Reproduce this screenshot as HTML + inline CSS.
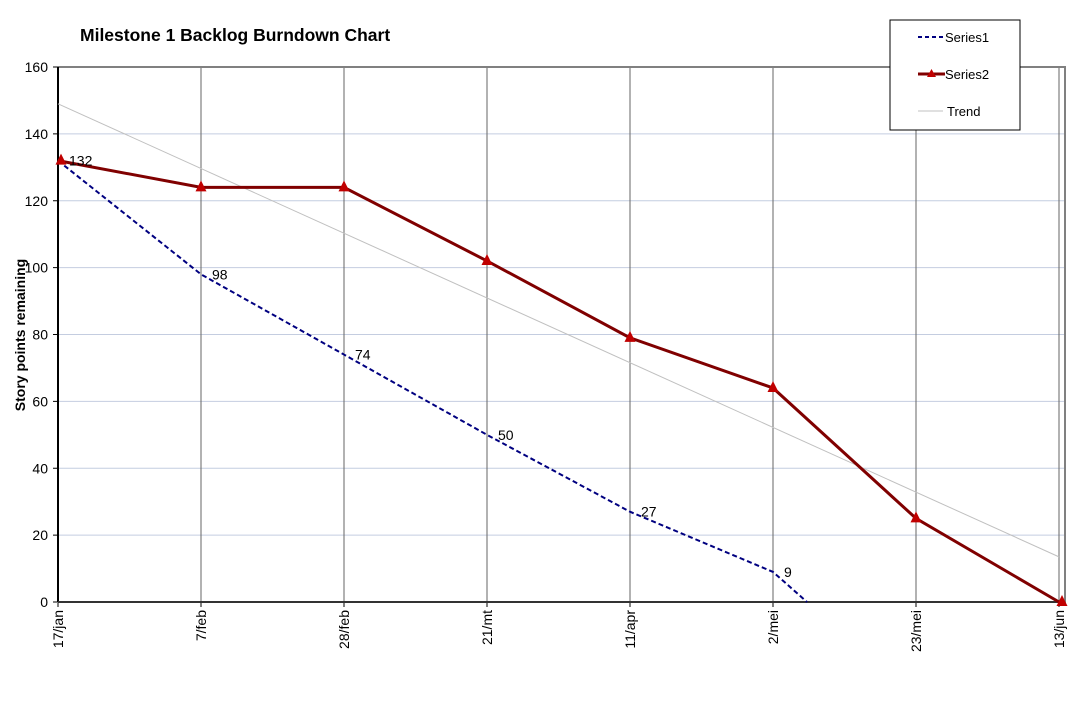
<!DOCTYPE html>
<html><head><meta charset="utf-8"><style>
body{margin:0;background:#fff;}
svg text{font-family:"Liberation Sans",Arial,sans-serif;}
</style></head><body>
<svg width="1087" height="698" viewBox="0 0 1087 698">
<text x="80" y="41" font-size="17.5" font-weight="bold">Milestone 1 Backlog Burndown Chart</text>
<text transform="translate(25,335) rotate(-90)" text-anchor="middle" font-size="14" font-weight="bold">Story points remaining</text>
<g id="grid"></g>
<g id="marks"></g>
<g>
<rect x="890" y="20" width="130" height="110" fill="#fff" stroke="#000" stroke-width="1"/>
<line x1="918" y1="37" x2="943" y2="37" stroke="#000080" stroke-width="2" stroke-dasharray="4,3"/>
<text x="945" y="42" font-size="13">Series1</text>
<line x1="918" y1="74" x2="945" y2="74" stroke="#800000" stroke-width="3"/>
<polygon points="931.5,69 927,77 936,77" fill="#c00000"/>
<text x="945" y="79" font-size="13">Series2</text>
<line x1="918" y1="111" x2="943" y2="111" stroke="#c0c0c0" stroke-width="1"/>
<text x="947" y="116" font-size="13">Trend</text>
</g>
</svg>
<script>
const categories=["17/jan","7/feb","28/feb","21/mt","11/apr","2/mei","23/mei","13/jun"];
const series1Days=[0,21,42,63,84,105,110];
const series1Values=[132,98,74,50,27,9,0];
const series1Labels=["132","98","74","50","27","9",""];
const series2Values=[132,124,124,102,79,64,25,0];
const trendStartEnd=[149,13.5];
const yTicks=[0,20,40,60,80,100,120,140,160];
const L=58,R=1065,T=67,B=602;
const xd=d=>L+d*143/21;
const y=v=>B-v*(B-T)/160;
const ns="http://www.w3.org/2000/svg";
function mk(tag,attrs,parent,txt){const e=document.createElementNS(ns,tag);for(const k in attrs)e.setAttribute(k,attrs[k]);if(txt!==undefined)e.textContent=txt;parent.appendChild(e);return e;}
const g=document.getElementById('grid'),m=document.getElementById('marks');
yTicks.forEach(t=>{
 if(t>0&&t<160){const l=mk('line',{x1:L,x2:R,y1:y(t),y2:y(t),stroke:'#c4cde0','stroke-width':1},g);
 
 }
 mk('line',{x1:L-5,x2:L,y1:y(t),y2:y(t),stroke:'#000'},g);
 const tx=mk('text',{x:L-10,y:y(t)+5,'text-anchor':'end','font-size':14},g,t);
 
 
});
categories.forEach((c,i)=>{
 const x=xd(i*21);
 if(i>0){const l=mk('line',{x1:x,x2:x,y1:T,y2:B,stroke:'#666','stroke-width':1},g);
 
 }
 mk('line',{x1:x,x2:x,y1:B,y2:B+5,stroke:'#000'},g);
 const tx=mk('text',{transform:`translate(${x+5},${B+8}) rotate(-90)`,'text-anchor':'end','font-size':14},g,c);
 
 
});
mk('rect',{x:L,y:T,width:R-L,height:B-T,fill:'none',stroke:'#808080','stroke-width':2},g);
mk('line',{x1:L,x2:L,y1:T,y2:B,stroke:'#000','stroke-width':2},g);
mk('line',{x1:L,x2:R,y1:B,y2:B,stroke:'#333','stroke-width':2},g);
const tr=mk('line',{x1:L,y1:y(trendStartEnd[0]),x2:xd(147),y2:y(trendStartEnd[1]),stroke:'#c0c0c0','stroke-width':1},m);


const p1=mk('polyline',{points:series1Values.map((v,i)=>xd(series1Days[i])+','+y(v)).join(' '),fill:'none',stroke:'#000080','stroke-width':2,'stroke-dasharray':'5,3'},m);


const p2=mk('polyline',{points:series2Values.map((v,i)=>xd(i*21)+','+y(v)).join(' '),fill:'none',stroke:'#800000','stroke-width':3},m);


series2Values.forEach((v,i)=>{
 const x=xd(i*21)+(i==0?3:(i==7?3:0)),yy=y(v);
 const t=mk('polygon',{points:`${x},${yy-7} ${x-5.5},${yy+4} ${x+5.5},${yy+4}`,fill:'#c00000'},m);
 
 
});
series1Values.forEach((v,i)=>{
 if(!series1Labels[i])return;
 const t=mk('text',{x:xd(series1Days[i])+11,y:y(v)+5,'font-size':14},m,series1Labels[i]);
 
 
});
</script>
</body></html>
